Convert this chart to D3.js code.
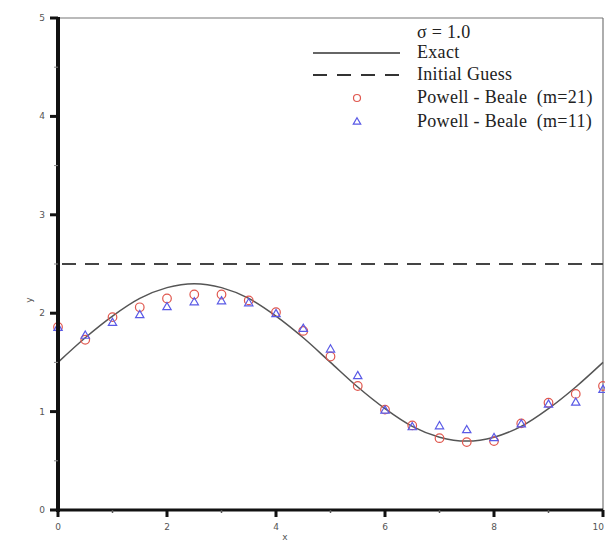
<!DOCTYPE html>
<html lang="en">
<head>
<meta charset="UTF-8">
<title>sigma = 1.0</title>
<script src="https://cdn.jsdelivr.net/npm/d3@7"></script>
<style>
  html, body { margin: 0; padding: 0; background: #fff; }
  .tick-label { font-family: "DejaVu Sans", sans-serif; font-size: 9px; fill: #555; }
  .legend text { font-family: "Liberation Serif", serif; font-size: 18px; letter-spacing: 0.3px; fill: #222; white-space: pre; }
</style>
</head>
<body>
<div id="chart"></div>
<script>
    // x positions shared by all series
    const xs = [0, 0.5, 1, 1.5, 2, 2.5, 3, 3.5, 4, 4.5, 5, 5.5, 6, 6.5, 7, 7.5, 8, 8.5, 9, 9.5, 10];

    // values
    const exact = [1.50, 1.75, 1.97, 2.15, 2.26, 2.30, 2.26, 2.15, 1.97, 1.75, 1.50,
                   1.25, 1.03, 0.85, 0.74, 0.70, 0.74, 0.85, 1.03, 1.25, 1.50];
    const m21 = [1.86, 1.73, 1.96, 2.06, 2.15, 2.19, 2.19, 2.13, 2.01, 1.82, 1.56,
                 1.26, 1.02, 0.86, 0.73, 0.69, 0.70, 0.88, 1.09, 1.18, 1.26];
    const m11 = [1.86, 1.78, 1.91, 1.99, 2.07, 2.12, 2.13, 2.11, 2.00, 1.85, 1.64,
                 1.37, 1.02, 0.85, 0.86, 0.82, 0.74, 0.88, 1.08, 1.10, 1.23];
    const initialGuess = 2.5;

    const xTicks = [0, 2, 4, 6, 8, 10];
    const xMinor = [1, 3, 5, 7, 9];
    const yTicks = [0, 1, 2, 3, 4, 5];
    const yMinor = [0.5, 1.5, 2.5, 3.5, 4.5];

    const legendItems = ["Exact", "Initial Guess", "Powell - Beale  (m=21)", "Powell - Beale  (m=11)"];

    const W = 605, H = 542;
    const svg = d3.select("#chart").append("svg")
        .attr("width", W)
        .attr("height", H);

    const x = d3.scaleLinear().domain([0, 10]).range([58, 603]);
    const y = d3.scaleLinear().domain([0, 5]).range([510, 18]);

    const red = "#e0584f", blue = "#5a5ae6";

    // frame (top and right)
    svg.append("line")
        .attr("x1", x(0)).attr("x2", x(10))
        .attr("y1", y(5)).attr("y2", y(5))
        .attr("stroke", "#777").attr("stroke-width", 1.2);
    svg.append("line")
        .attr("x1", x(10)).attr("x2", x(10))
        .attr("y1", y(5)).attr("y2", y(0))
        .attr("stroke", "#777").attr("stroke-width", 1.2);

    // initial guess (dashed)
    svg.append("line")
        .attr("x1", x(0)).attr("x2", x(10))
        .attr("y1", y(initialGuess)).attr("y2", y(initialGuess))
        .attr("stroke", "#444").attr("stroke-width", 2)
        .attr("stroke-dasharray", "14,9")
        .attr("stroke-dashoffset", -4);

    // exact solution
    const line = d3.line()
        .x((d, i) => x(xs[i]))
        .y(d => y(d))
        .curve(d3.curveMonotoneX);
    svg.append("path")
        .datum(exact)
        .attr("d", line)
        .attr("fill", "none")
        .attr("stroke", "#555")
        .attr("stroke-width", 1.5);

    // markers
    const tri = d3.symbol().type(d3.symbolTriangle).size(30);
    svg.append("g").selectAll("circle")
        .data(m21)
        .enter().append("circle")
        .attr("cx", (d, i) => x(xs[i]))
        .attr("cy", d => y(d))
        .attr("r", 4.3)
        .attr("fill", "none")
        .attr("stroke", red)
        .attr("stroke-width", 1.2);
    svg.append("g").selectAll("path")
        .data(m11)
        .enter().append("path")
        .attr("d", tri)
        .attr("transform", (d, i) => `translate(${x(xs[i])},${y(d) + 1})`)
        .attr("fill", "none")
        .attr("stroke", blue)
        .attr("stroke-width", 1.2);

    // axes
    svg.append("line")
        .attr("x1", x(0)).attr("x2", x(10))
        .attr("y1", y(0)).attr("y2", y(0))
        .attr("stroke", "#111").attr("stroke-width", 3);
    svg.append("line")
        .attr("x1", x(0)).attr("x2", x(0))
        .attr("y1", y(5) - 1).attr("y2", y(0) + 2)
        .attr("stroke", "#111").attr("stroke-width", 4);

    svg.selectAll(".xtick").data(xTicks).enter().append("line")
        .attr("class", "xtick")
        .attr("x1", d => x(d)).attr("x2", d => x(d))
        .attr("y1", y(0)).attr("y2", y(0) + 7)
        .attr("stroke", "#111").attr("stroke-width", 3);
    svg.selectAll(".xminor").data(xMinor).enter().append("line")
        .attr("class", "xminor")
        .attr("x1", d => x(d)).attr("x2", d => x(d))
        .attr("y1", y(0)).attr("y2", y(0) + 3)
        .attr("stroke", "#555").attr("stroke-width", 1.5);
    svg.selectAll(".xlab").data(xTicks).enter().append("text")
        .attr("class", "tick-label")
        .attr("x", d => d === 10 ? W - 1 : x(d))
        .attr("y", y(0) + 20)
        .attr("text-anchor", d => d === 10 ? "end" : "middle")
        .text(d => d);

    svg.selectAll(".ytick").data(yTicks).enter().append("line")
        .attr("class", "ytick")
        .attr("x1", x(0) - 8).attr("x2", x(0))
        .attr("y1", d => y(d)).attr("y2", d => y(d))
        .attr("stroke", "#111").attr("stroke-width", 3);
    svg.selectAll(".yminor").data(yMinor).enter().append("line")
        .attr("class", "yminor")
        .attr("x1", x(0) - 4).attr("x2", x(0))
        .attr("y1", d => y(d)).attr("y2", d => y(d))
        .attr("stroke", "#888").attr("stroke-width", 1);
    svg.selectAll(".ylab").data(yTicks).enter().append("text")
        .attr("class", "tick-label")
        .attr("x", x(0) - 13)
        .attr("y", d => y(d) + 3)
        .attr("text-anchor", "end")
        .text(d => d);

    // axis titles
    svg.append("text")
        .attr("class", "tick-label")
        .attr("x", 285).attr("y", 540)
        .attr("text-anchor", "middle")
        .text("x");
    svg.append("text")
        .attr("class", "tick-label")
        .attr("transform", "translate(32,300) rotate(-90)")
        .attr("text-anchor", "middle")
        .text("y");

    // legend
    const lg = svg.append("g").attr("class", "legend");
    const lx0 = 313, lx1 = 400, tx = 417;
    lg.append("text").attr("x", tx).attr("y", 38).text("σ = 1.0");
    const rowY = [53, 75, 98, 122];
    lg.selectAll(".lt").data(legendItems).enter().append("text")
        .attr("x", tx)
        .attr("y", (d, i) => rowY[i] + 5)
        .text(d => d);
    lg.append("line")
        .attr("x1", lx0).attr("x2", lx1)
        .attr("y1", rowY[0]).attr("y2", rowY[0])
        .attr("stroke", "#333").attr("stroke-width", 1.5);
    lg.append("line")
        .attr("x1", lx0).attr("x2", lx1)
        .attr("y1", rowY[1]).attr("y2", rowY[1])
        .attr("stroke", "#333").attr("stroke-width", 2)
        .attr("stroke-dasharray", "14,10");
    lg.append("circle")
        .attr("cx", 357).attr("cy", rowY[2])
        .attr("r", 3.5)
        .attr("fill", "none").attr("stroke", red).attr("stroke-width", 1.2);
    lg.append("path")
        .attr("d", d3.symbol().type(d3.symbolTriangle).size(24))
        .attr("transform", `translate(357,${rowY[3]})`)
        .attr("fill", "none").attr("stroke", blue).attr("stroke-width", 1.2);
</script>
</body>
</html>
